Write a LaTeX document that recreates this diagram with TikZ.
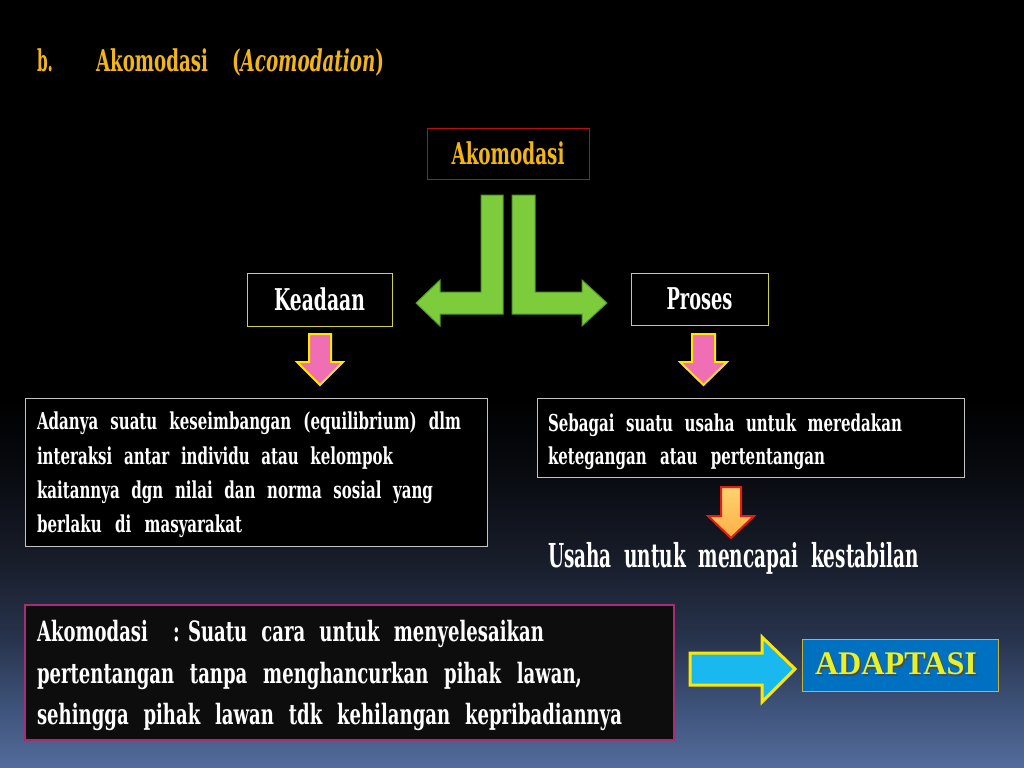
\documentclass[tikz,border=0pt]{standalone}
\usepackage{fontspec}
\usepackage{graphicx}
\setmainfont{DejaVu Serif}[FakeStretch=0.56]
\newfontfamily\bodyfont{DejaVu Serif}[FakeStretch=0.645]
\newfontfamily\adfont{Liberation Serif}
\definecolor{gold}{RGB}{242,182,20}
\definecolor{grn}{RGB}{124,204,60}
\definecolor{grnd}{RGB}{84,150,44}
\definecolor{pnk}{RGB}{240,110,180}
\definecolor{ylw}{RGB}{255,232,0}
\definecolor{kbord}{RGB}{210,210,60}
\definecolor{redb}{RGB}{185,15,15}
\definecolor{gbord}{RGB}{195,195,195}
\definecolor{mag}{RGB}{165,45,115}
\definecolor{cyn}{RGB}{25,185,240}
\definecolor{adbl}{RGB}{0,112,192}
\definecolor{adyl}{RGB}{232,240,40}
\definecolor{adbd}{RGB}{200,180,60}
\definecolor{orngt}{RGB}{255,210,110}
\definecolor{orngb}{RGB}{255,175,70}
\definecolor{orred}{RGB}{225,30,20}
\definecolor{bga}{RGB}{10,12,18}
\definecolor{bgb}{RGB}{24,29,42}
\definecolor{bgc}{RGB}{40,52,78}
\definecolor{bgd}{RGB}{60,80,118}
\definecolor{bge}{RGB}{84,108,156}
\definecolor{boxfill}{RGB}{13,13,13}
\newcommand\fitw[2]{\resizebox{#1}{\height}{#2}}
\newcommand\spreadw[2]{\makebox[#1][s]{#2}}
\begin{document}
\begin{tikzpicture}[x=1bp,y=-1bp,
  every node/.style={inner sep=0pt,outer sep=0pt},
  ttl/.style={text=gold,font=\bfseries\fontsize{30bp}{36bp}\selectfont,anchor=base west},
  lab/.style={fill=black,line width=1bp,font=\bfseries\fontsize{30bp}{36bp}\selectfont},
  bodyS/.style={text=white,font=\bodyfont\bfseries\fontsize{23.3bp}{28bp}\selectfont,anchor=base west},
  bodyL/.style={text=white,font=\bodyfont\bfseries\fontsize{28bp}{34bp}\selectfont,anchor=base west},
  greenarrow/.style={fill=grn,draw=grnd,line width=1bp,line join=miter},
  pinkarrow/.style={fill=pnk,draw=ylw,line width=2bp,line join=miter},
]
\useasboundingbox (0,0) rectangle (1024,768);
% background
\fill[black] (0,0) rectangle (1024,402);
\shade[top color=black,bottom color=bga] (0,400) rectangle (1024,481);
\shade[top color=bga,bottom color=bgb] (0,480) rectangle (1024,561);
\shade[top color=bgb,bottom color=bgc] (0,560) rectangle (1024,641);
\shade[top color=bgc,bottom color=bgd] (0,640) rectangle (1024,701);
\shade[top color=bgd,bottom color=bge] (0,700) rectangle (1024,768);
% title
\node[ttl] (tb) at (37,72) {\fitw{16bp}{b.}};
\node[ttl] (ta) at (96,72) {\fitw{112bp}{Akomodasi}};
\node[ttl] (tc) at (232,72) {\fitw{152bp}{(\textit{Acomodation})}};
% top box
\node[lab,draw=redb,text=gold,minimum width=162bp,minimum height=51bp] (ak) at (508,153.5) {\fitw{113bp}{Akomodasi}};
% green arrows
\draw[greenarrow] (503,195) -- (503,314) -- (440,314) -- (440,326) -- (416,303) -- (440,280) -- (440,292) -- (481,292) -- (481,195) -- cycle;
\draw[greenarrow] (512,195) -- (535,195) -- (535,292) -- (582,292) -- (582,280) -- (607,303) -- (582,326) -- (582,314) -- (512,314) -- cycle;
% Keadaan / Proses
\node[lab,draw=kbord,text=white,minimum width=145bp,minimum height=53bp] (ke) at (319.5,299.5) {\fitw{91bp}{Keadaan}};
\node[lab,draw=kbord,text=white,minimum width=137bp,minimum height=52bp] (pr) at (699.5,299) {\fitw{66bp}{Proses}};
% pink arrows
\draw[pinkarrow] (309,334) -- (331,334) -- (331,362) -- (343,362) -- (320,385) -- (297,362) -- (309,362) -- cycle;
\draw[pinkarrow] (692,334) -- (715,334) -- (715,362) -- (727,362) -- (703.5,385) -- (680,362) -- (692,362) -- cycle;
% left box
\node[draw=gbord,fill=black,line width=1bp,minimum width=462bp,minimum height=148bp,anchor=north west] (bl) at (25,398) {};
\node[bodyS] (l1) at (37,429) {\spreadw{424bp}{Adanya suatu keseimbangan (equilibrium) dlm}};
\node[bodyS] (l2) at (37,464) {\spreadw{356bp}{interaksi antar individu atau kelompok}};
\node[bodyS] (l3) at (37,498) {\spreadw{396bp}{kaitannya dgn nilai dan norma sosial yang}};
\node[bodyS] (l4) at (37,532) {\spreadw{205bp}{berlaku di masyarakat}};
% right box
\node[draw=gbord,fill=black,line width=1bp,minimum width=427bp,minimum height=79bp,anchor=north west] (br) at (537,398) {};
\node[bodyS] (r1) at (548,431) {\spreadw{354bp}{Sebagai suatu usaha untuk meredakan}};
\node[bodyS] (r2) at (548,464) {\spreadw{277bp}{ketegangan atau pertentangan}};
% orange arrow
\draw[top color=orngt,bottom color=orngb,draw=orred,line width=2bp,line join=miter] (721,487) -- (741,487) -- (741,516) -- (754,516) -- (731,538) -- (708,516) -- (721,516) -- cycle;
\node[text=white,font=\bfseries\fontsize{33bp}{40bp}\selectfont,anchor=base west] (us) at (548,567) {\spreadw{371bp}{Usaha untuk mencapai kestabilan}};
% bottom box
\node[draw=mag,fill=boxfill,line width=1.5bp,minimum width=649bp,minimum height=135bp,anchor=north west] (bb) at (25,605) {};
\node[bodyL] (b1a) at (37,641) {\fitw{111bp}{Akomodasi}};
\node[bodyL] (b1b) at (173,641) {:};
\node[bodyL] (b1c) at (188,641) {\spreadw{356bp}{Suatu cara untuk menyelesaikan}};
\node[bodyL] (b2) at (37,683) {\spreadw{545bp}{pertentangan tanpa menghancurkan pihak lawan,}};
\node[bodyL] (b3) at (37,724) {\spreadw{585bp}{sehingga pihak lawan tdk kehilangan kepribadiannya}};
% cyan arrow
\draw[fill=cyn,draw=ylw,line width=3bp,line join=miter] (690,653) -- (762,653) -- (762,637) -- (795,669) -- (762,702) -- (762,685) -- (690,685) -- cycle;
% ADAPTASI
\node[fill=adbl,draw=adbd,line width=1bp,minimum width=196bp,minimum height=52bp] (ad) at (900,665) {};
\node[text=black!70,font=\adfont\bfseries\fontsize{33bp}{40bp}\selectfont] at (897.5,665.5) {\fitw{162bp}{ADAPTASI}};
\node[text=adyl,font=\adfont\bfseries\fontsize{33bp}{40bp}\selectfont] (adt) at (896,664) {\fitw{162bp}{ADAPTASI}};
\end{tikzpicture}
\end{document}
